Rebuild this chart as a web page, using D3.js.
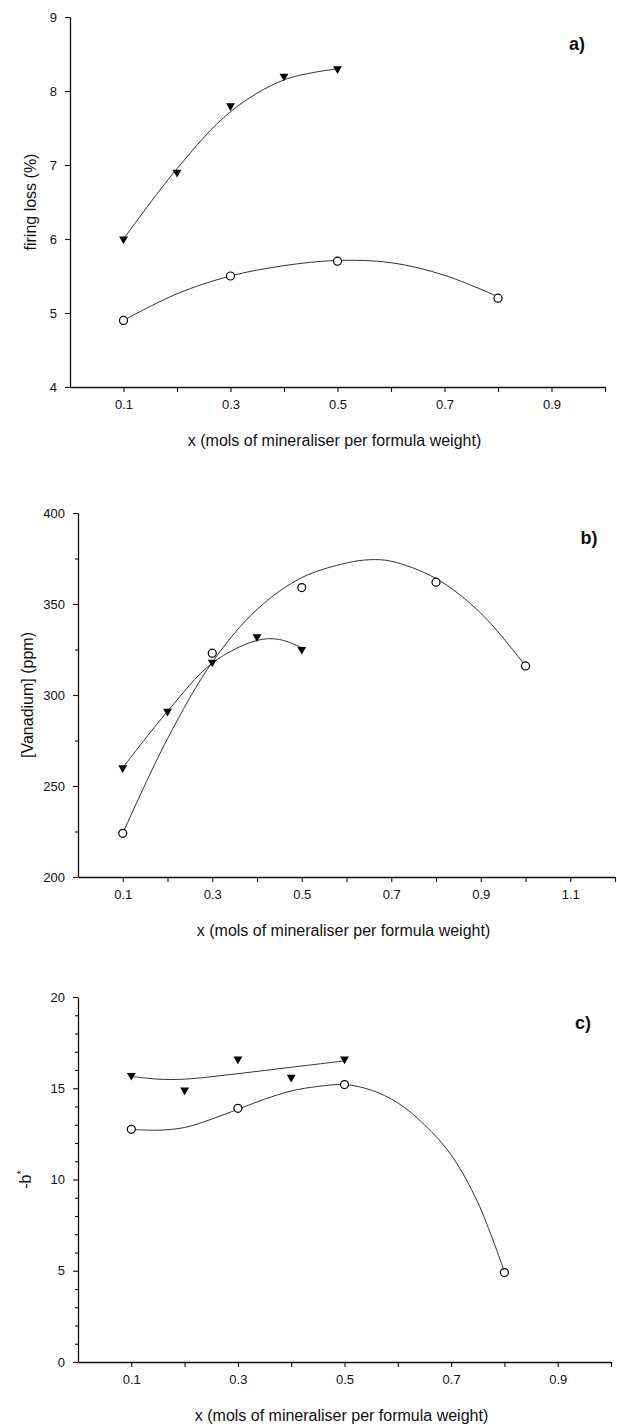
<!DOCTYPE html>
<html><head><meta charset="utf-8">
<script src="https://cdn.jsdelivr.net/npm/d3@7"></script>
<style>
body{margin:0;background:#fff}
svg{display:block}
text{font-family:"Liberation Sans",Arial,Helvetica,sans-serif;fill:#111}
</style>
</head><body>
<svg id="chart" width="617" height="1426"></svg>
<script>
// ---------------- DATA ----------------
// panel a) firing loss (%)
const xTriA = [0.1, 0.2, 0.3, 0.4, 0.5];
const yTriA = [6.0, 6.9, 7.8, 8.2, 8.3];
const xCirA = [0.1, 0.3, 0.5, 0.8];
const yCirA = [4.9, 5.5, 5.7, 5.2];
const fitTriAx = [0.1, 0.2, 0.3, 0.4, 0.5];
const fitTriAy = [6.0, 6.95, 7.72, 8.15, 8.3];
const fitCirAx = [0.1, 0.2, 0.3, 0.4, 0.5, 0.6, 0.7, 0.8];
const fitCirAy = [4.9, 5.26, 5.5, 5.64, 5.71, 5.68, 5.51, 5.22];

// panel b) [Vanadium] (ppm)
const xTriB = [0.1, 0.2, 0.3, 0.4, 0.5];
const yTriB = [260, 291, 318, 332, 325];
const xCirB = [0.1, 0.3, 0.5, 0.8, 1.0];
const yCirB = [224, 323, 359, 362, 316];
const fitTriBx = [0.1, 0.2, 0.3, 0.4, 0.45, 0.5];
const fitTriBy = [260, 291, 317.5, 330, 330.5, 326];
const fitCirBx = [0.1, 0.2, 0.3, 0.4, 0.5, 0.6, 0.65, 0.7, 0.8, 0.9, 1.0];
const fitCirBy = [224, 276, 318, 347, 364.5, 372.5, 374.3, 373.5, 364, 345, 316];

// panel c) -b*
const xTriC = [0.1, 0.2, 0.3, 0.4, 0.5];
const yTriC = [15.7, 14.9, 16.6, 15.6, 16.6];
const xCirC = [0.1, 0.3, 0.5, 0.8];
const yCirC = [12.75, 13.9, 15.2, 4.9];
const fitTriCx = [0.1, 0.15, 0.2, 0.3, 0.4, 0.5];
const fitTriCy = [15.65, 15.5, 15.5, 15.8, 16.15, 16.5];
const fitCirCx = [0.1, 0.15, 0.2, 0.25, 0.3, 0.35, 0.4, 0.45, 0.5, 0.55, 0.6, 0.65, 0.7, 0.75, 0.8];
const fitCirCy = [12.75, 12.7, 12.85, 13.3, 13.85, 14.4, 14.85, 15.1, 15.2, 14.9, 14.2, 13.0, 11.35, 8.75, 4.95];

// ticks
const xTicksA = [0.1,0.2,0.3,0.4,0.5,0.6,0.7,0.8,0.9,1.0];
const xLabelsA = ["0.1","0.3","0.5","0.7","0.9"];
const yMajorA = [4,5,6,7,8,9];
const yMinorA = [];
const xTicksB = [0.1,0.2,0.3,0.4,0.5,0.6,0.7,0.8,0.9,1.0,1.1,1.2];
const xLabelsB = ["0.1","0.3","0.5","0.7","0.9","1.1"];
const yMajorB = [200,250,300,350,400];
const yMinorB = [225,275,325,375];
const xTicksC = [0.1,0.2,0.3,0.4,0.5,0.6,0.7,0.8,0.9,1.0];
const xLabelsC = ["0.1","0.3","0.5","0.7","0.9"];
const yMajorC = [0,5,10,15,20];
const yMinorC = [1,2,3,4,6,7,8,9,11,12,13,14,16,17,18,19];

const xTitle = "x (mols of mineraliser per formula weight)";

// ---------------- DRAW ----------------
const svg = d3.select("#chart");
const fmt = d3.format(".1f");
const yfmt = d3.format("~g");

function zip(xs, ys){ return xs.map((x,i)=>({x:x, y:ys[i]})); }

function panel(o){
  const g = svg.append("g");
  const x = d3.scaleLinear().domain(o.xDomain).range(o.xRange);
  const y = d3.scaleLinear().domain(o.yDomain).range(o.yRange);
  const axisY = o.yRange[0];

  // x axis
  g.append("g").attr("transform", `translate(0,${axisY})`)
    .call(d3.axisBottom(x).tickValues(o.xTicks).tickSize(5).tickSizeOuter(0).tickPadding(8)
      .tickFormat(d => o.xLabels.includes(fmt(d)) ? fmt(d) : ""));
  // y axis minor
  g.append("g").attr("transform", `translate(${o.xRange[0]},0)`)
    .call(d3.axisLeft(y).tickValues(o.yMinor).tickSize(3).tickSizeOuter(0).tickFormat(""))
    .select(".domain").remove();
  g.append("g").attr("transform", `translate(${o.xRange[0]},0)`)
    .call(d3.axisLeft(y).tickValues(o.yMajor).tickSize(5).tickSizeOuter(0).tickPadding(8).tickFormat(yfmt));
  g.selectAll(".domain").attr("stroke","#111").attr("stroke-width",1.3);
  g.selectAll(".tick line").attr("stroke","#111").attr("stroke-width",1.1);
  g.selectAll(".tick text").style("font-size","13px").attr("fill","#111")
    .style("font-family",'"Liberation Sans",Arial,sans-serif');

  // titles
  g.append("text").attr("x", (o.xRange[0]+o.xRange[1])/2 - 3).attr("y", axisY + 59)
    .attr("text-anchor","middle").style("font-size","16px").text(xTitle);
  const yt = g.append("text")
    .attr("transform", `translate(${o.yTitleX},${(o.yRange[0]+o.yRange[1])/2}) rotate(-90)`)
    .attr("text-anchor","middle").style("font-size","16px");
  if (o.yTitleSup){
    yt.append("tspan").text(o.yTitle);
    yt.append("tspan").attr("dy",-6).style("font-size","11px").text(o.yTitleSup);
  } else yt.text(o.yTitle);
  g.append("text").attr("x", o.tag[1]).attr("y", o.tag[2]).attr("text-anchor","middle")
    .style("font-size","18px").style("font-weight","bold").text(o.tag[0]);

  // fitted curves
  const line = d3.line().x(d=>x(d.x)).y(d=>y(d.y)).curve(d3.curveCatmullRom.alpha(0.5));
  o.fits.forEach(f => {
    g.append("path").datum(f).attr("d", line).attr("fill","none")
      .attr("stroke","#333").attr("stroke-width",1);
  });
  // markers
  const tri = d3.symbol().type(d3.symbolTriangle).size(34);
  g.selectAll(".tri").data(o.tri).join("path").attr("class","tri")
    .attr("d", tri).attr("fill","#000")
    .attr("transform", d=>`translate(${x(d.x)},${y(d.y)}) rotate(180)`);
  g.selectAll(".cir").data(o.cir).join("circle").attr("class","cir")
    .attr("cx", d=>x(d.x)).attr("cy", d=>y(d.y)).attr("r",4)
    .attr("fill","#fff").attr("stroke","#000").attr("stroke-width",1.2);
}

panel({
  xDomain:[0,1], xRange:[70,605], yDomain:[4,9], yRange:[387,17],
  xTicks:xTicksA, xLabels:xLabelsA, yMajor:yMajorA, yMinor:yMinorA,
  yTitle:"firing loss (%)", yTitleX:36, tag:["a)",577,50],
  fits:[zip(fitTriAx,fitTriAy), zip(fitCirAx,fitCirAy)],
  tri:zip(xTriA,yTriA), cir:zip(xCirA,yCirA)
});
panel({
  xDomain:[0,1.2], xRange:[78,615], yDomain:[200,400], yRange:[877,513],
  xTicks:xTicksB, xLabels:xLabelsB, yMajor:yMajorB, yMinor:yMinorB,
  yTitle:"[Vanadium] (ppm)", yTitleX:33, tag:["b)",589,544],
  fits:[zip(fitTriBx,fitTriBy), zip(fitCirBx,fitCirBy)],
  tri:zip(xTriB,yTriB), cir:zip(xCirB,yCirB)
});
panel({
  xDomain:[0,1], xRange:[78,611], yDomain:[0,20], yRange:[1362,997],
  xTicks:xTicksC, xLabels:xLabelsC, yMajor:yMajorC, yMinor:yMinorC,
  yTitle:"-b", yTitleSup:"*", yTitleX:31, tag:["c)",583,1029],
  fits:[zip(fitTriCx,fitTriCy), zip(fitCirCx,fitCirCy)],
  tri:zip(xTriC,yTriC), cir:zip(xCirC,yCirC)
});
</script>
</body></html>
